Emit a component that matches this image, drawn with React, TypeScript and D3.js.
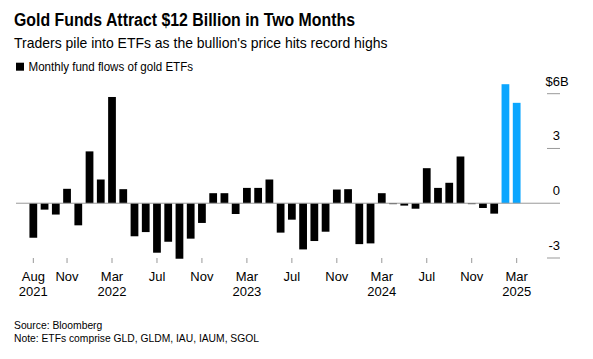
import React, { useEffect, useRef } from "react";
import * as d3 from "d3";

// monthly flows, $ billions, Aug 2021 .. Mar 2025
const months: Date[] = d3.timeMonths(new Date(2021, 7, 1), new Date(2025, 3, 1));
const flows: number[] = [
	-1.89, -0.35, -0.62, 0.79, -1.21, 2.84, 1.3, 5.82, 0.77, -1.81, -1.58, -2.71,
	-2.11, -3.04, -1.94, -1.08, 0.55, 0.55, -0.59, 0.84, 0.84, 1.3, -1.61, -0.9,
	-2.53, -2.07, -1.56, 0.75, 0.77, -2.24, -2.2, 0.55, -0.05, -0.13, -0.3, 1.92,
	0.84, 1.12, 2.56, -0.05, -0.26, -0.57, 6.52, 5.5,
];
const highlighted = ["2025-02", "2025-03"];
const yTicks = [-3, 0, 3, 6];
const xTickMonths = ["2021-08", "2021-11", "2022-03", "2022-07", "2022-11", "2023-03", "2023-07", "2023-11", "2024-03", "2024-07", "2024-11", "2025-03"];
const yearLabels = ["2021-08", "2022-03", "2023-03", "2024-03", "2025-03"];

const title = "Gold Funds Attract $12 Billion in Two Months";
const subtitle = "Traders pile into ETFs as the bullion's price hits record highs";
const legendLabel = "Monthly fund flows of gold ETFs";
const source = "Source: Bloomberg";
const note = "Note: ETFs comprise GLD, GLDM, IAU, IAUM, SGOL";

const W = 593;
const H = 359;
const FONT = "'Liberation Sans', Arial, sans-serif";

const fmt = d3.timeFormat("%Y-%m");

const App: React.FC = () => {
	const svgRef = useRef<SVGSVGElement | null>(null);

	useEffect(() => {
		const svg = d3.select(svgRef.current);
		svg.selectAll("*").remove();

		const x = d3
			.scaleBand<string>()
			.domain(months.map(fmt))
			.range([27.7, 522.3])
			.paddingInner(0.31)
			.paddingOuter(0.155);

		const y = d3.scaleLinear().domain([-3, 6]).range([258, 93.7]);

		svg.append("rect").attr("width", W).attr("height", H).attr("fill", "#fff");

		// header texts, squeezed to the reference widths
		const addText = (
			tx: number,
			ty: number,
			size: number,
			weight: string,
			str: string,
			len: number
		) =>
			svg.append("text")
				.attr("x", tx)
				.attr("y", ty)
				.attr("textLength", len)
				.attr("lengthAdjust", "spacingAndGlyphs")
				.style("font-family", FONT)
				.style("font-weight", weight)
				.style("font-size", size + "px")
				.attr("fill", "#000")
				.text(str);

		addText(14, 26, 18, "700", title, 341);
		addText(14, 47.5, 15, "400", subtitle, 373.5);

		svg.append("rect")
			.attr("x", 16)
			.attr("y", 62.7)
			.attr("width", 8)
			.attr("height", 8)
			.attr("fill", "#000");

		addText(28.5, 70.7, 12, "400", legendLabel, 164.5);

		// y axis (right side)
		const yAxis = svg.append("g");
		yAxis.selectAll("line")
			.data(yTicks.filter((t) => t !== 0))
			.enter()
			.append("line")
			.attr("x1", 547)
			.attr("x2", 560)
			.attr("y1", (d) => y(d))
			.attr("y2", (d) => y(d))
			.attr("stroke", "#999")
			.attr("stroke-width", 1);

		yAxis.selectAll("text")
			.data(yTicks)
			.enter()
			.append("text")
			.attr("x", 560)
			.attr("y", (d) => y(d) - 8)
			.attr("text-anchor", "end")
			.style("font-family", FONT)
			.style("font-size", "13px")
			.attr("fill", "#000")
			.text((d) => (d === 6 ? "$6" : String(d)));

		// suffix on top label
		svg.append("text")
			.attr("x", 560)
			.attr("y", y(6) - 8)
			.style("font-family", FONT)
			.style("font-size", "13px")
			.attr("fill", "#000")
			.text("B");

		// bars
		svg.append("g")
			.selectAll("rect")
			.data(flows)
			.enter()
			.append("rect")
			.attr("x", (_, i) => x(fmt(months[i]))!)
			.attr("width", x.bandwidth())
			.attr("y", (d) => (d >= 0 ? y(d) : y(0)))
			.attr("height", (d) => Math.abs(y(d) - y(0)))
			.attr("fill", (_, i) => (highlighted.includes(fmt(months[i])) ? "#0ba6ff" : "#000"));

		// zero line
		svg.append("line")
			.attr("x1", 16)
			.attr("x2", 560)
			.attr("y1", y(0))
			.attr("y2", y(0))
			.attr("stroke", "#999")
			.attr("stroke-width", 1);

		// x axis
		const xAxis = svg.append("g");
		const cx = (m: string) => x(m)! + x.bandwidth() / 2;
		xAxis.selectAll("line")
			.data(xTickMonths)
			.enter()
			.append("line")
			.attr("x1", cx)
			.attr("x2", cx)
			.attr("y1", 258)
			.attr("y2", 263)
			.attr("stroke", "#999")
			.attr("stroke-width", 1);

		xAxis.selectAll("text.m")
			.data(xTickMonths)
			.enter()
			.append("text")
			.attr("class", "m")
			.attr("x", cx)
			.attr("y", 281)
			.attr("text-anchor", "middle")
			.style("font-family", FONT)
			.style("font-size", "13px")
			.attr("fill", "#000")
			.text((d) => d3.timeFormat("%b")(d3.timeParse("%Y-%m")(d)!));

		xAxis.selectAll("text.yr")
			.data(yearLabels)
			.enter()
			.append("text")
			.attr("class", "yr")
			.attr("x", cx)
			.attr("y", 296)
			.attr("text-anchor", "middle")
			.style("font-family", FONT)
			.style("font-size", "13px")
			.attr("fill", "#000")
			.text((d) => d.slice(0, 4));

		// footer
		addText(14, 328.5, 11, "400", source, 88.3);
		addText(14, 341.8, 11, "400", note, 245);
	}, []);

	return (
		<svg
			ref={svgRef}
			width={W}
			height={H}
			style={{ position: "absolute", left: 0, top: 0 }}
		></svg>
	);
};

export default App;
